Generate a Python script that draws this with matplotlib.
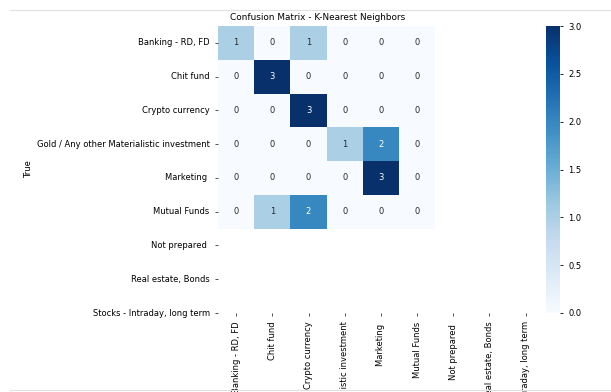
import numpy as np
import matplotlib
matplotlib.use("Agg")
import matplotlib.pyplot as plt
from matplotlib.lines import Line2D
import seaborn as sns

# class names (full list used for tick labels)
classes = [
    "Banking - RD, FD",
    "Chit fund",
    "Crypto currency",
    "Gold / Any other Materialistic investment",
    "Marketing ",
    "Mutual Funds",
    "Not prepared ",
    "Real estate, Bonds",
    "Stocks - Intraday, long term",
]

# confusion matrix for the classes present in the test split
cm = np.array([
    [1, 0, 1, 0, 0, 0],
    [0, 3, 0, 0, 0, 0],
    [0, 0, 3, 0, 0, 0],
    [0, 0, 0, 1, 2, 0],
    [0, 0, 0, 0, 3, 0],
    [0, 1, 2, 0, 0, 0],
])

W, H = 611, 392
fig = plt.figure(figsize=(W / 100, H / 100), dpi=100)
ax = fig.add_axes([218 / W, 1 - 313 / H, 307.7 / W, 287 / H])
cax = fig.add_axes([546 / W, 1 - 313 / H, 14 / W, 287 / H])

FS = 6.0
sns.heatmap(cm, annot=True, fmt="d", cmap="Blues", ax=ax, cbar_ax=cax,
            annot_kws={"fontsize": FS})

pos = np.arange(len(classes)) + 0.5
ax.set_xticks(pos, classes, rotation=90, fontsize=FS)
ax.set_yticks(pos, classes, rotation=0, fontsize=FS)
ax.set_xlim(0, 8.5)
ax.set_ylim(8.5, 0)
ax.tick_params(length=2.5, width=0.6, color="#333333")
ax.set_ylabel("True", fontsize=FS)
ax.yaxis.set_label_coords(-0.60, 0.5)
ax.set_title("Confusion Matrix - K-Nearest Neighbors", fontsize=6.4, pad=4, x=0.325)

cax.set_yticks(np.arange(0, 3.01, 0.5))
cax.tick_params(labelsize=FS, length=2.5, width=0.6)

# notebook cell borders
for yy in (9.5, 389.5):
    fig.add_artist(Line2D([10 / W, 1], [1 - yy / H] * 2, color="#e0e0e0", lw=0.8))

fig.savefig("out.png", dpi=100)
